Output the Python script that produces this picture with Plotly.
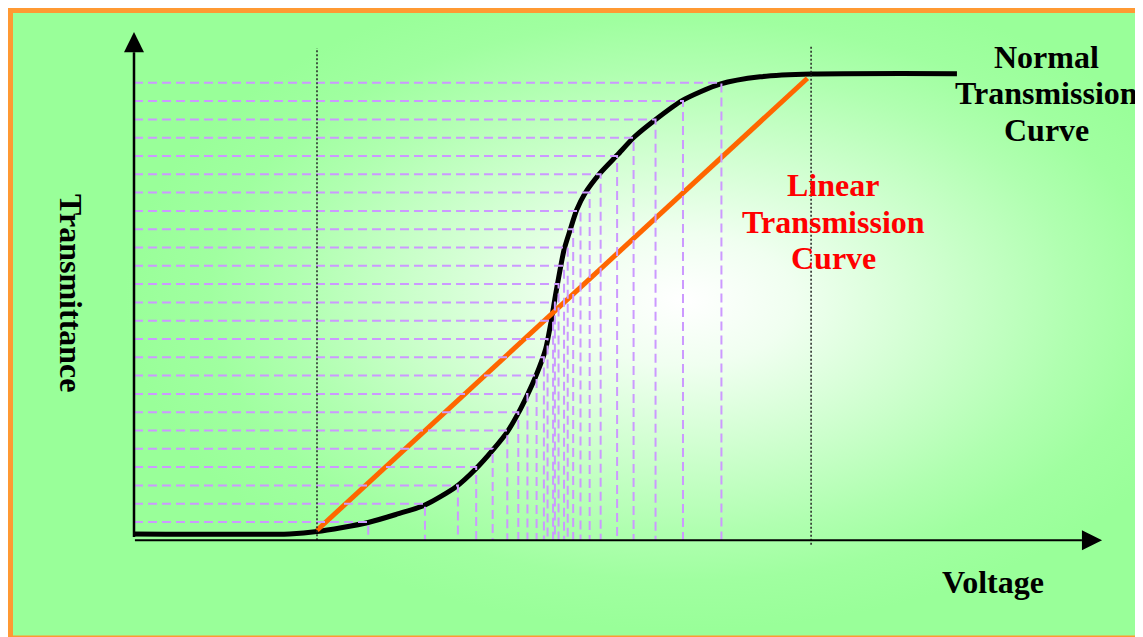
import plotly.graph_objects as go

# ---------------- data ----------------
# Normal (S-shaped) transmission curve: voltage (arb. units) vs transmittance
curve_voltage = [0.00, 0.85, 1.00, 1.28, 1.44, 1.59, 1.76, 1.87, 1.96, 2.04, 2.10, 2.15,
                 2.195, 2.248, 2.281, 2.300, 2.315, 2.350, 2.383, 2.419, 2.464, 2.546,
                 2.641, 2.735, 2.858, 2.995, 3.202, 3.421, 3.703, 4.497]
curve_trans = [0.014, 0.014, 0.019, 0.039, 0.0575, 0.077, 0.117, 0.157, 0.197, 0.237, 0.278, 0.318,
               0.358, 0.416, 0.482, 0.528, 0.562, 0.635, 0.678, 0.722, 0.758, 0.802,
               0.842, 0.882, 0.922, 0.961, 0.997, 1.013, 1.019, 1.020]

# Linear transmission curve
linear_voltage = [1.00, 3.68]
linear_trans = [0.022, 1.010]

# Equally spaced transmittance levels and the voltages where the curve reaches them
levels = [0.04, 0.08, 0.12, 0.16, 0.20, 0.24, 0.28, 0.32, 0.36, 0.40, 0.44, 0.48, 0.52,
          0.56, 0.60, 0.64, 0.68, 0.72, 0.76, 0.80, 0.84, 0.88, 0.92, 0.96, 1.00]
level_voltage = [1.28, 1.59, 1.77, 1.87, 1.96, 2.04, 2.10, 2.15, 2.20, 2.24, 2.26, 2.29, 2.30,
                 2.32, 2.35, 2.37, 2.40, 2.44, 2.49, 2.55, 2.64, 2.73, 2.85, 3.00, 3.21]

# Threshold and saturation voltages (dotted markers)
threshold_voltage = 1.00
saturation_voltage = 3.70

# ---------------- layout constants ----------------
OFF = 8                      # page body margin of the browser
W, H = 1143 - OFF, 637 - OFF
X_RANGE = [-0.6885, 5.5137]
Y_RANGE = [-0.2114, 1.1635]
LAVENDER = "#CC99FF"
ORANGE = "#FF6600"
FONT = "Liberation Serif"


def px(sx):
    return (sx - OFF) / W


def py(sy):
    return 1 - (sy - OFF) / H


fig = go.Figure()

# background radial gradient
fig.add_trace(go.Scatter(
    x=[-0.05, 6.05, 6.05, -0.05, -0.05], y=[1.247, 1.247, -0.196, -0.196, 1.247],
    mode="lines", line=dict(width=0), fill="toself",
    fillgradient=dict(type="radial",
                      colorscale=[[0, "#FFFFFF"], [0.2, "#F0FFF0"], [0.45, "#D0FFD0"],
                                  [0.7, "#B0FFB0"], [0.85, "#A0FFA0"], [1, "#99FF99"]]),
    hoverinfo="skip", showlegend=False))

# normal transmission curve
fig.add_trace(go.Scatter(x=curve_voltage, y=curve_trans, mode="lines",
                         line=dict(color="black", width=5, shape="spline", smoothing=0.7),
                         showlegend=False))
# linear transmission curve
fig.add_trace(go.Scatter(x=linear_voltage, y=linear_trans, mode="lines",
                         line=dict(color=ORANGE, width=5), showlegend=False))

# dashed level lines (horizontal to curve, then down to voltage axis)
ex, ey = [], []
for v, t in zip(level_voltage, levels):
    ex += [0, v, v, None]
    ey += [t, t, 0, None]
fig.add_trace(go.Scatter(x=ex, y=ey, mode="lines",
                         line=dict(color=LAVENDER, width=2, dash="9px,5px"),
                         showlegend=False))

# dotted threshold / saturation lines
for v, top, bottom in [(threshold_voltage, 1.076, 0.0), (saturation_voltage, 1.080, -0.010)]:
    fig.add_trace(go.Scatter(x=[v, v], y=[bottom, top], mode="lines",
                             line=dict(color="#222222", width=1.5, dash="2px,2px"),
                             showlegend=False))

shapes = [
    # axes
    dict(type="line", xref="x", yref="y", x0=0, x1=0, y0=0.007, y1=1.067,
         line=dict(color="black", width=2.5)),
    dict(type="path", xref="x", yref="y", path="M -0.0546,1.067 L 0.0546,1.067 L 0,1.111 Z",
         fillcolor="black", line=dict(width=0)),
    dict(type="line", xref="x", yref="y", x0=0.005, x1=5.18, y0=0, y1=0,
         line=dict(color="black", width=2)),
    dict(type="path", xref="x", yref="y", path="M 5.18,-0.0219 L 5.18,0.0219 L 5.29,0 Z",
         fillcolor="black", line=dict(width=0)),
    # orange frame (right side lies outside the picture)
    dict(type="rect", xref="paper", yref="paper", x0=px(10.5), x1=px(1150), y0=py(638),
         y1=py(10.5), line=dict(color="#FF9933", width=5), fillcolor="rgba(0,0,0,0)",
         layer="above"),
]


def label(text, sx, sy, color="black", angle=0):
    return dict(text=text, x=px(sx), y=py(sy), xref="paper", yref="paper",
                xanchor="center", yanchor="middle", showarrow=False, textangle=angle,
                font=dict(family=FONT, size=32, color=color))


annotations = [
    label("<b>Normal</b>", 1046, 56.5),
    label("<b>Transmission</b>", 1046, 93),
    label("<b>Curve</b>", 1046, 130),
    label("<b>Linear</b>", 833, 185, "#FF0000"),
    label("<b>Transmission</b>", 833, 221.5, "#FF0000"),
    label("<b>Curve</b>", 833, 258, "#FF0000"),
    label("<b>Voltage</b>", 993, 581.5),
    label("<b>Transmittance</b>", 71.5, 292.5, angle=90),
]

fig.update_layout(
    width=W, height=H, autosize=False,
    margin=dict(l=0, r=0, t=0, b=0, pad=0),
    paper_bgcolor="white", plot_bgcolor="#99FF99",
    xaxis=dict(range=X_RANGE, visible=False, fixedrange=True),
    yaxis=dict(range=Y_RANGE, visible=False, fixedrange=True),
    shapes=shapes, annotations=annotations, showlegend=False,
)

fig.write_html("out.html")
